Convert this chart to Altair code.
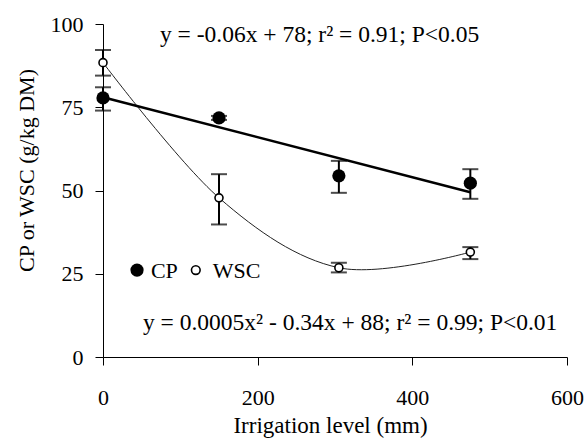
import altair as alt
import pandas as pd

# ---- data ----
irrigation = [0, 150, 305, 475]
cp_mean = [77.8, 71.8, 54.4, 52.2]
cp_lo = [74.0, 71.2, 49.3, 47.5]
cp_hi = [81.0, 72.4, 58.9, 56.4]
wsc_mean = [88.4, 47.8, 26.8, 31.5]
wsc_lo = [84.5, 39.8, 25.4, 29.4]
wsc_hi = [92.2, 54.9, 28.3, 33.0]

cp_fit_x = [0, 475]
cp_fit_y = [78.0, 49.5]

x_ticks = [0, 200, 400, 600]
y_ticks = [0, 25, 50, 75, 100]

FONT = "Liberation Serif"

cp = pd.DataFrame({"x": irrigation, "y": cp_mean, "lo": cp_lo, "hi": cp_hi})
wsc = pd.DataFrame({"x": irrigation, "y": wsc_mean, "lo": wsc_lo, "hi": wsc_hi})
fit = pd.DataFrame({"x": cp_fit_x, "y": cp_fit_y})

xs = alt.Scale(domain=[0, 600], nice=False)
ys = alt.Scale(domain=[0, 100], nice=False)

X = alt.X("x:Q", scale=xs, axis=alt.Axis(values=x_ticks, title="Irrigation level (mm)",
                                         labelPadding=22, titleX=227, titleY=57,
                                         titleFontSize=23))
Y = alt.Y("y:Q", scale=ys, axis=alt.Axis(values=y_ticks, title="CP or WSC (g/kg DM)",
                                         labelPadding=12, titlePadding=12, titleY=146,
                                         titleFontSize=22))


def errbars(df):
    base = alt.Chart(df)
    rule = base.mark_rule(color="black", strokeWidth=2).encode(
        x=alt.X("x:Q", scale=xs), y=alt.Y("lo:Q", scale=ys), y2="hi:Q")
    t1 = base.mark_tick(color="black", thickness=2, size=16, orient="horizontal").encode(
        x=alt.X("x:Q", scale=xs), y=alt.Y("lo:Q", scale=ys))
    t2 = base.mark_tick(color="black", thickness=2, size=16, orient="horizontal").encode(
        x=alt.X("x:Q", scale=xs), y=alt.Y("hi:Q", scale=ys))
    return rule + t1 + t2


wsc_curve = alt.Chart(wsc).mark_line(color="#222222", strokeWidth=1,
                                     interpolate="cardinal", tension=0).encode(x=X, y=Y)
fit_line = alt.Chart(fit).mark_line(color="black", strokeWidth=2.5).encode(x=X, y=Y)

cp_pts = alt.Chart(cp).mark_point(shape="circle", filled=True, color="black",
                                  size=175, opacity=1).encode(x=X, y=Y)
wsc_pts = alt.Chart(wsc).mark_point(shape="circle", filled=False, fill="white",
                                    fillOpacity=1, stroke="black", strokeWidth=1.6,
                                    size=64, opacity=1).encode(x=X, y=Y)

# annotations (text)
ann = pd.DataFrame({
    "x": [73.7, 51.7],
    "y": [94.6, 8.1],
    "t": ["y = -0.06x + 78; r² = 0.91; P<0.05",
          "y = 0.0005x² - 0.34x + 88; r² = 0.99; P<0.01"],
})
ann_txt = alt.Chart(ann).mark_text(font=FONT, fontSize=23.5, align="left",
                                   baseline="alphabetic", color="black").encode(
    x=alt.X("x:Q", scale=xs), y=alt.Y("y:Q", scale=ys), text="t:N")

# manual legend
leg_pts = pd.DataFrame({"x": [44.0], "y": [26.1]})
leg_open = pd.DataFrame({"x": [120.0], "y": [26.1]})
leg_txt = pd.DataFrame({"x": [62.0, 142.0], "y": [23.7, 23.7], "t": ["CP", "WSC"]})

leg1 = alt.Chart(leg_pts).mark_point(shape="circle", filled=True, color="black",
                                     size=175, opacity=1).encode(
    x=alt.X("x:Q", scale=xs), y=alt.Y("y:Q", scale=ys))
leg2 = alt.Chart(leg_open).mark_point(shape="circle", filled=False, stroke="black",
                                      strokeWidth=1.6, size=75, opacity=1).encode(
    x=alt.X("x:Q", scale=xs), y=alt.Y("y:Q", scale=ys))
leg3 = alt.Chart(leg_txt).mark_text(font=FONT, fontSize=22, align="left",
                                    baseline="alphabetic", color="black").encode(
    x=alt.X("x:Q", scale=xs), y=alt.Y("y:Q", scale=ys), text="t:N")

chart = alt.layer(
    wsc_curve, fit_line, errbars(cp), errbars(wsc), cp_pts, wsc_pts,
    ann_txt, leg1, leg2, leg3
).properties(
    width=464, height=333,
    autosize=alt.AutoSizeParams(type="none"),
    padding={"left": 103, "top": 24, "right": 17, "bottom": 82},
    background="white",
).configure_view(stroke=None).configure_axis(
    grid=False, labelFont=FONT, labelFontSize=22, titleFont=FONT,
    titleFontWeight="normal", labelColor="black", titleColor="black",
    domainColor="black", tickColor="black", tickSize=8, labelFlush=False
)

chart.save("out.html", embed_options={"renderer": "svg", "actions": False})
